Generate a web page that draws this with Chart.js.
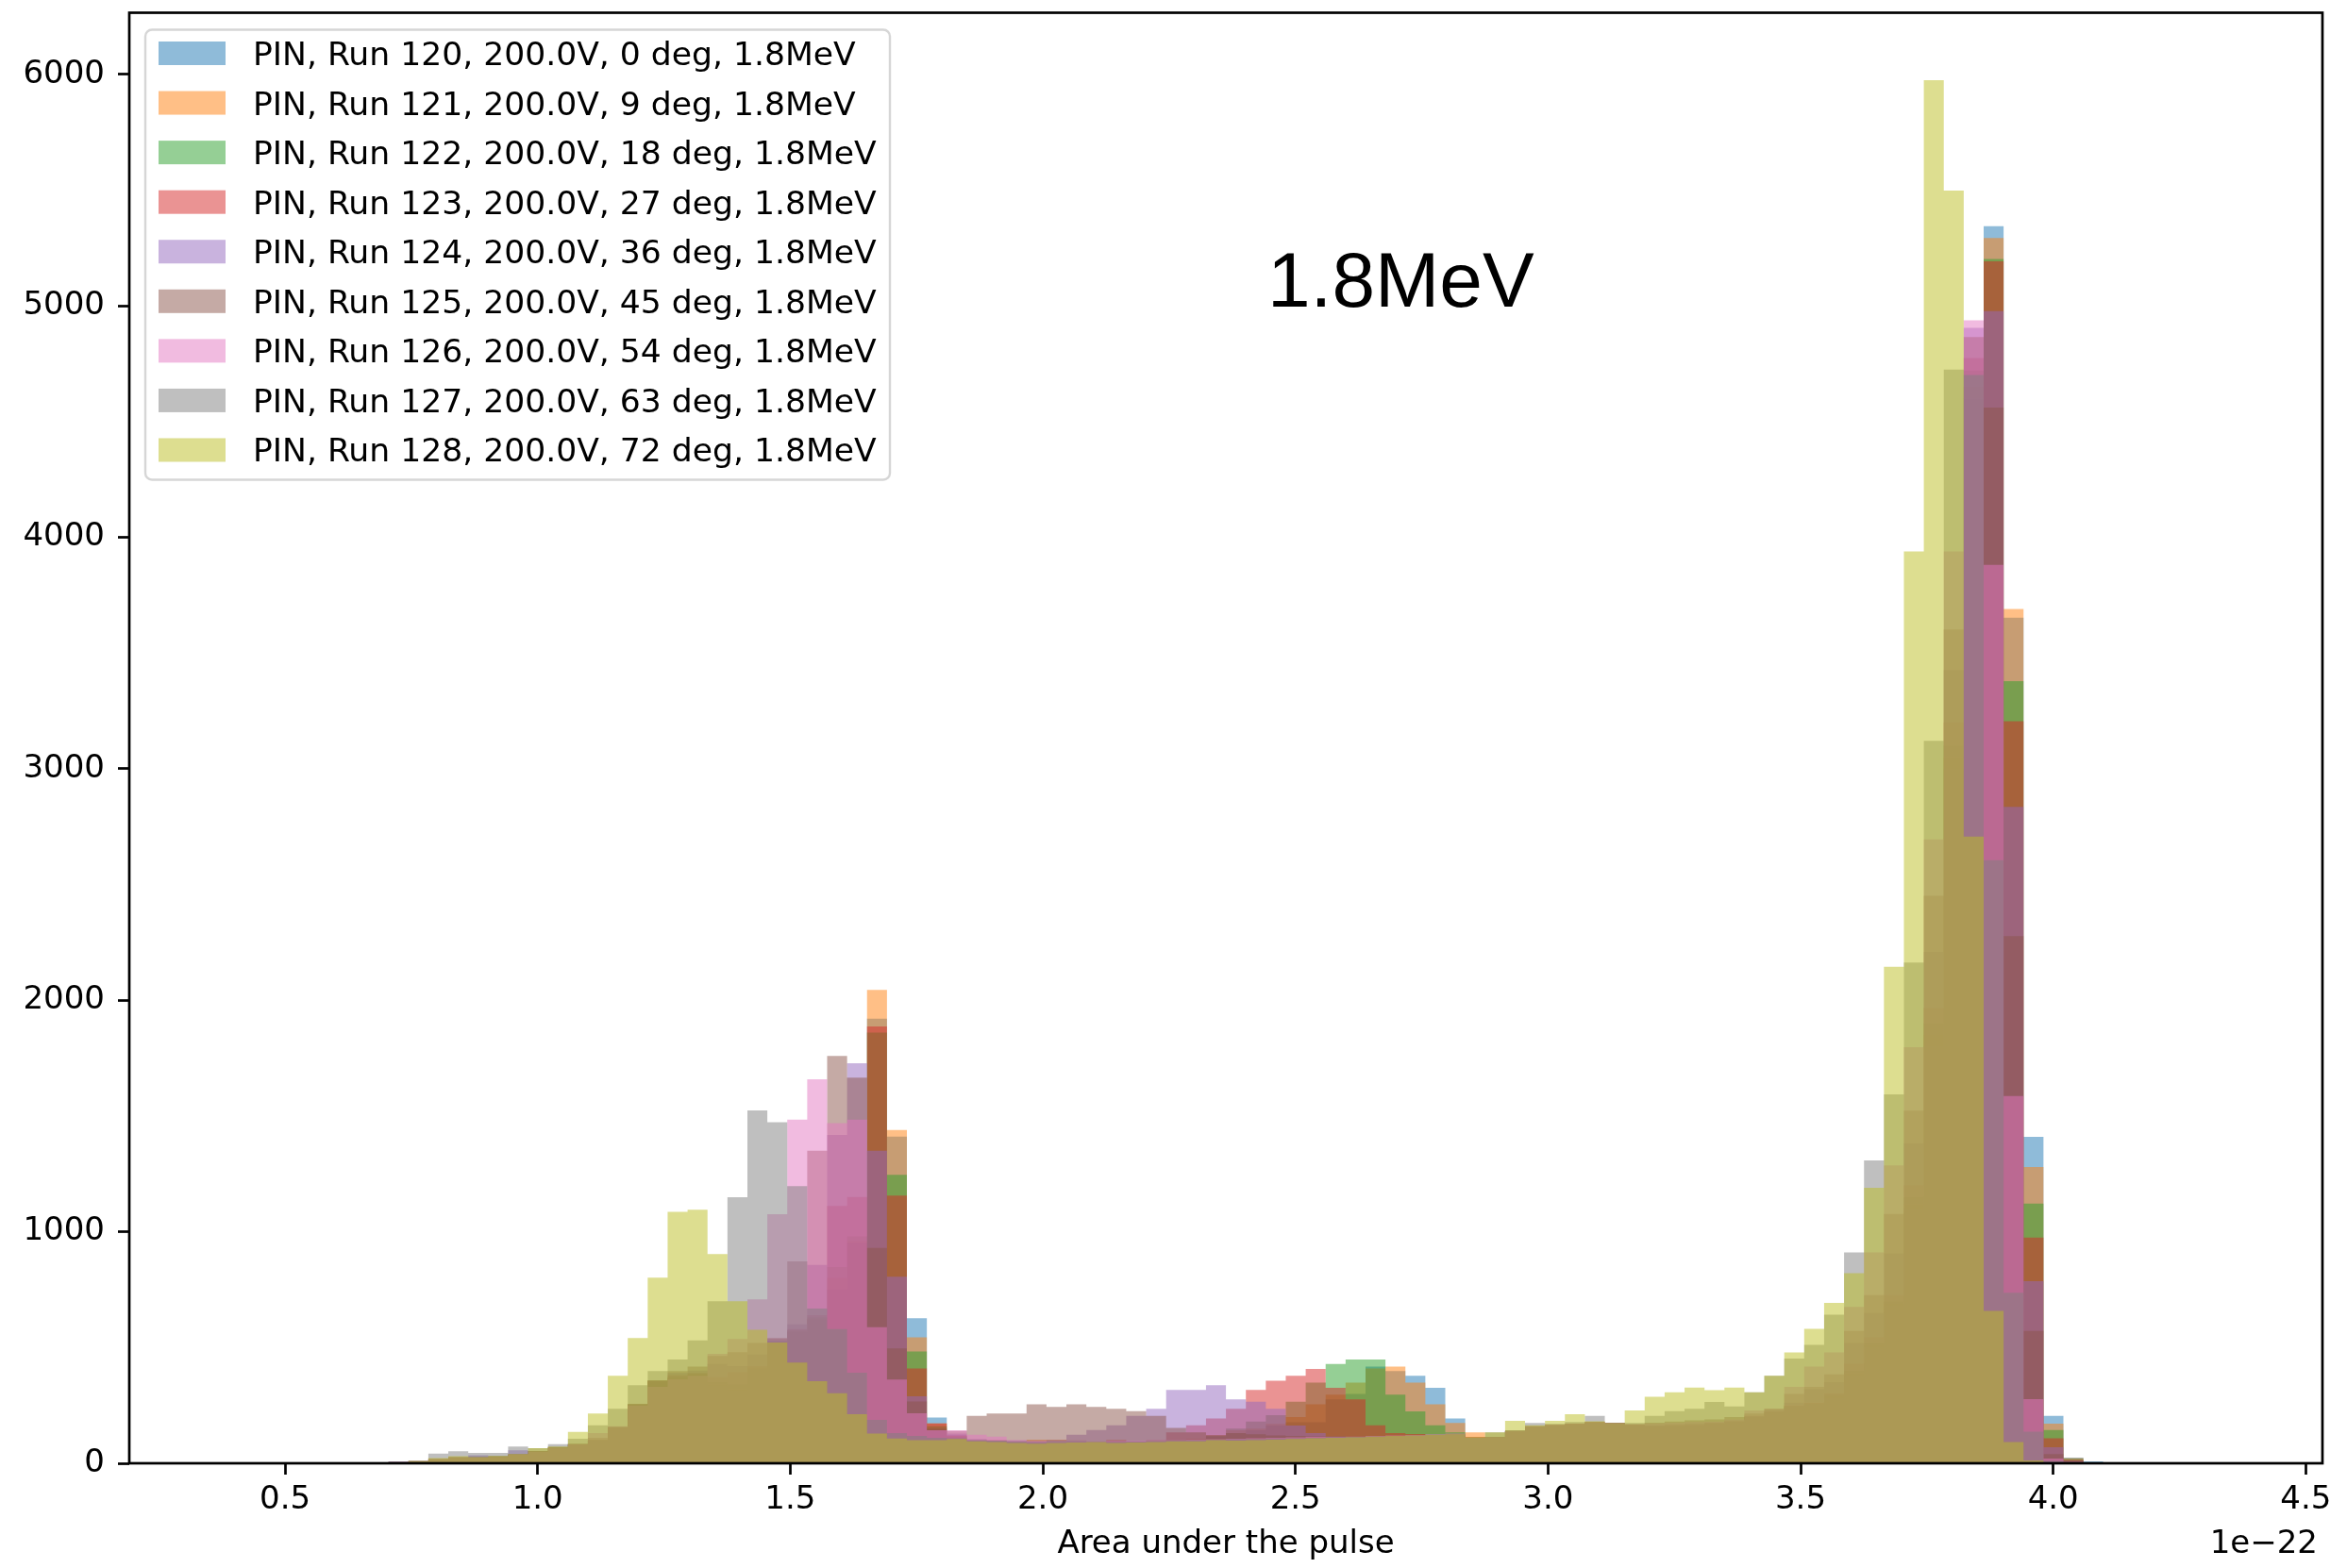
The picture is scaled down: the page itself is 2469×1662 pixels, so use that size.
<!DOCTYPE html>
<html>
<head>
<meta charset="utf-8">
<title>PIN runs 120-128, 1.8MeV</title>
<script src="https://cdn.jsdelivr.net/npm/chart.js@4.4.1/dist/chart.umd.min.js"></script>
<style>
  html, body { margin: 0; padding: 0; background: #fff; }
  #wrap { position: relative; width: 2469px; height: 1662px; }
</style>
</head>
<body>
<div id="wrap"><canvas id="histChart"></canvas></div>
<script>
// common binning: 100 bins over the full range, counts listed from FIRST_BIN on
const BIN_LO = 0.389;
const BIN_WIDTH = 0.03947;
const FIRST_BIN = 7;

const X_MIN = 0.1917;
const X_MAX = 4.533;
const Y_MAX = 6266;
const X_TICKS = [0.5, 1.0, 1.5, 2.0, 2.5, 3.0, 3.5, 4.0, 4.5];
const Y_TICKS = [0, 1000, 2000, 3000, 4000, 5000, 6000];

const RUNS = [120, 121, 122, 123, 124, 125, 126, 127, 128];
const ANGLES = [0, 9, 18, 27, 36, 45, 54, 63, 72];
const COLORS = [
  'rgba(31,119,180,0.5)', 'rgba(255,127,14,0.5)', 'rgba(44,160,44,0.5)',
  'rgba(214,39,40,0.5)', 'rgba(148,103,189,0.5)', 'rgba(140,86,75,0.5)',
  'rgba(227,119,194,0.5)', 'rgba(127,127,127,0.5)', 'rgba(188,189,34,0.5)'
];

const run120 = [0, 4, 8, 16, 24, 24, 30, 38, 52, 66,
  83, 100, 156, 255, 357, 366, 378, 333, 311, 405,
  525, 566, 620, 750, 952, 1921, 1411, 627, 198, 120,
  99, 97, 92, 88, 90, 92, 92, 95, 92, 97,
  99, 100, 115, 130, 143, 163, 177, 177, 276, 300,
  418, 398, 378, 326, 194, 113, 113, 140, 158, 164,
  168, 176, 174, 165, 160, 160, 165, 172, 180, 200,
  222, 245, 255, 280, 375, 500, 680, 1100, 1800, 3000,
  4600, 5344, 3653, 1410, 205, 24, 8];
const run121 = [0, 5, 8, 16, 24, 24, 30, 38, 52, 66,
  83, 100, 156, 255, 357, 368, 380, 340, 320, 410,
  525, 570, 625, 800, 960, 2045, 1440, 544, 172, 118,
  99, 99, 95, 102, 102, 99, 92, 102, 90, 99,
  99, 105, 122, 143, 150, 170, 200, 255, 296, 348,
  410, 418, 348, 255, 174, 133, 113, 140, 158, 164,
  170, 178, 174, 167, 160, 167, 167, 174, 181, 205,
  225, 250, 262, 290, 390, 510, 690, 1120, 1850, 3050,
  4650, 5293, 3690, 1280, 171, 22, 0];
const run122 = [0, 5, 8, 16, 24, 24, 30, 38, 52, 66,
  83, 100, 156, 255, 357, 370, 385, 350, 340, 415,
  530, 575, 630, 848, 980, 1860, 1246, 483, 160, 115,
  98, 97, 92, 88, 90, 93, 92, 95, 94, 97,
  100, 102, 120, 150, 180, 208, 266, 348, 429, 448,
  448, 296, 224, 164, 133, 110, 113, 140, 158, 164,
  168, 176, 174, 165, 160, 160, 165, 172, 180, 200,
  222, 245, 258, 295, 400, 520, 700, 1150, 1900, 3100,
  4720, 5202, 3379, 1122, 144, 18, 0];
const run123 = [0, 5, 9, 18, 25, 24, 30, 38, 52, 68,
  83, 100, 156, 255, 357, 380, 390, 372, 394, 420,
  540, 580, 640, 1112, 1150, 1887, 1156, 410, 172, 120,
  100, 99, 92, 90, 92, 95, 94, 96, 95, 99,
  133, 164, 194, 235, 317, 357, 378, 408, 326, 276,
  164, 130, 126, 120, 120, 113, 113, 140, 160, 165,
  170, 178, 174, 165, 160, 160, 165, 172, 180, 200,
  225, 250, 262, 303, 431, 545, 726, 1201, 1966, 3200,
  4774, 5192, 3205, 975, 108, 15, 0];
const run124 = [0, 8, 10, 18, 26, 35, 30, 56, 52, 70,
  83, 100, 156, 255, 357, 390, 400, 430, 420, 470,
  530, 600, 857, 1418, 1728, 1350, 806, 289, 143, 128,
  105, 100, 99, 96, 100, 123, 144, 164, 205, 235,
  317, 317, 337, 276, 266, 235, 163, 130, 115, 110,
  112, 115, 118, 120, 122, 110, 113, 140, 158, 164,
  168, 175, 174, 166, 165, 168, 172, 176, 185, 205,
  230, 262, 320, 350, 520, 650, 907, 1382, 2209, 3426,
  4905, 4977, 2836, 787, 69, 10, 0];
const run125 = [0, 5, 9, 18, 26, 30, 30, 40, 52, 70,
  83, 110, 156, 255, 357, 398, 418, 464, 480, 520,
  540, 872, 1350, 1760, 1666, 930, 496, 267, 150, 140,
  205, 215, 215, 255, 244, 255, 244, 235, 225, 205,
  153, 133, 120, 130, 125, 120, 118, 116, 115, 115,
  116, 118, 120, 122, 125, 110, 113, 140, 160, 165,
  170, 176, 174, 168, 175, 180, 185, 190, 200, 215,
  235, 300, 330, 384, 572, 726, 1077, 1523, 2451, 3602,
  4865, 4560, 2277, 572, 40, 8, 0];
const run126 = [0, 4, 8, 18, 25, 24, 28, 38, 50, 65,
  83, 130, 160, 250, 330, 364, 378, 473, 537, 708,
  1076, 1484, 1659, 1469, 1484, 588, 362, 216, 143, 143,
  123, 115, 100, 96, 95, 97, 95, 97, 98, 99,
  100, 102, 104, 106, 108, 110, 112, 114, 113, 115,
  118, 120, 122, 125, 128, 110, 113, 140, 160, 168,
  172, 178, 174, 170, 172, 175, 178, 180, 190, 228,
  235, 330, 418, 479, 676, 911, 1287, 1797, 2695, 3939,
  4937, 3881, 1586, 277, 20, 5, 0];
const run127 = [0, 6, 10, 42, 52, 45, 45, 72, 65, 83,
  106, 164, 235, 337, 398, 448, 531, 700, 1149, 1524,
  1473, 1197, 668, 580, 391, 187, 130, 118, 110, 108,
  100, 98, 95, 92, 95, 97, 95, 93, 95, 97,
  99, 100, 102, 104, 105, 107, 108, 110, 112, 114,
  116, 118, 120, 122, 124, 110, 133, 143, 174, 170,
  178, 205, 174, 174, 205, 225, 235, 265, 246, 307,
  378, 452, 511, 642, 911, 1308, 1593, 2163, 3121, 4724,
  4701, 2605, 737, 137, 10, 3, 0];
const run128 = [0, 4, 10, 22, 31, 26, 32, 40, 65, 72,
  136, 215, 378, 541, 802, 1086, 1095, 904, 700, 577,
  522, 435, 355, 303, 212, 128, 107, 100, 100, 105,
  95, 92, 88, 85, 88, 90, 92, 88, 90, 92,
  95, 95, 100, 98, 100, 102, 105, 108, 110, 112,
  115, 118, 120, 122, 125, 113, 133, 183, 164, 183,
  212, 181, 174, 228, 287, 307, 327, 316, 327, 307,
  378, 479, 581, 693, 821, 1190, 2145, 3939, 5975, 5498,
  2707, 658, 92, 12, 0, 0, 0];

const COUNTS = [run120, run121, run122, run123, run124, run125, run126, run127, run128];

const FONT = '"DejaVu Sans", sans-serif';
Chart.defaults.font.family = FONT;
Chart.defaults.font.size = 34;
Chart.defaults.color = '#000';

// one point per left bin edge plus the closing right edge; stepped 'before'
// keeps each bin flat across its width
function histPoints(counts) {
  const pts = counts.map((c, i) => ({ x: BIN_LO + (FIRST_BIN + i) * BIN_WIDTH, y: c }));
  pts.push({ x: BIN_LO + (FIRST_BIN + counts.length) * BIN_WIDTH, y: 0 });
  return pts;
}

const datasets = COUNTS.map((counts, i) => ({
  label: `PIN, Run ${RUNS[i]}, 200.0V, ${ANGLES[i]} deg, 1.8MeV`,
  data: histPoints(counts),
  stepped: 'before',
  fill: 'origin',
  backgroundColor: COLORS[i],
  borderColor: 'rgba(0,0,0,0)',
  borderWidth: 0,
  pointRadius: 0,
  // later runs are painted over earlier ones
  order: COUNTS.length - 1 - i
}));

const extras = {
  id: 'extras',
  afterDraw(chart) {
    const { ctx, chartArea: a } = chart;
    ctx.save();

    // axes box
    ctx.strokeStyle = '#000';
    ctx.lineWidth = 2.7;
    ctx.strokeRect(a.left, a.top, a.right - a.left, a.bottom - a.top);

    // legend
    const lx = a.left + 17, ly = a.top + 18, lw = 789, lh = 477;
    ctx.beginPath();
    ctx.roundRect(lx, ly, lw, lh, 7);
    ctx.fillStyle = 'rgba(255,255,255,0.8)';
    ctx.fill();
    ctx.strokeStyle = 'rgba(204,204,204,0.8)';
    ctx.lineWidth = 2.4;
    ctx.stroke();
    ctx.font = '34.6px ' + FONT;
    ctx.textAlign = 'left';
    ctx.textBaseline = 'alphabetic';
    chart.data.datasets.forEach((ds, i) => {
      const cy = ly + 25 + i * 52.56;
      ctx.fillStyle = ds.backgroundColor;
      ctx.fillRect(lx + 14, cy - 12.5, 71, 25);
      ctx.fillStyle = '#000';
      ctx.fillText(ds.label, lx + 114, cy + 12.5);
    });

    // energy note
    ctx.font = '82px "Liberation Sans", Arial, sans-serif';
    ctx.fillText('1.8MeV', 1343, 325);

    // axis scale factor
    ctx.font = '34px ' + FONT;
    ctx.textAlign = 'right';
    ctx.textBaseline = 'middle';
    ctx.fillText('1e\u221222', a.right - 5, a.bottom + 86);
    ctx.restore();
  }
};

new Chart(document.getElementById('histChart'), {
  type: 'line',
  data: { datasets },
  options: {
    responsive: true,
    maintainAspectRatio: false,
    animation: false,
    devicePixelRatio: 1,
    layout: { padding: { top: 13.5, right: 8, left: 0, bottom: 0 } },
    plugins: { legend: { display: false }, tooltip: { enabled: false } },
    scales: {
      x: {
        type: 'linear',
        min: X_MIN,
        max: X_MAX,
        afterBuildTicks: (s) => { s.ticks = X_TICKS.map(v => ({ value: v })); },
        afterFit: (s) => { s.height = 111; s.paddingLeft = 0; s.paddingRight = 0; },
        border: { display: false },
        grid: { drawOnChartArea: false, drawTicks: true, tickLength: 12, tickWidth: 2.7, tickColor: '#000' },
        ticks: { callback: (v) => v.toFixed(1), padding: 7, maxRotation: 0, autoSkip: false, color: '#000' },
        title: { display: true, text: 'Area under the pulse', color: '#000', padding: { top: 0, bottom: 4 } }
      },
      y: {
        min: 0,
        max: Y_MAX,
        afterBuildTicks: (s) => { s.ticks = Y_TICKS.map(v => ({ value: v })); },
        afterFit: (s) => { s.width = 137; s.paddingTop = 0; s.paddingBottom = 0; },
        border: { display: false },
        grid: { drawOnChartArea: false, drawTicks: true, tickLength: 12, tickWidth: 2.7, tickColor: '#000' },
        ticks: { callback: (v) => String(v), padding: 14, color: '#000' }
      }
    }
  },
  plugins: [extras]
});
</script>
</body>
</html>
